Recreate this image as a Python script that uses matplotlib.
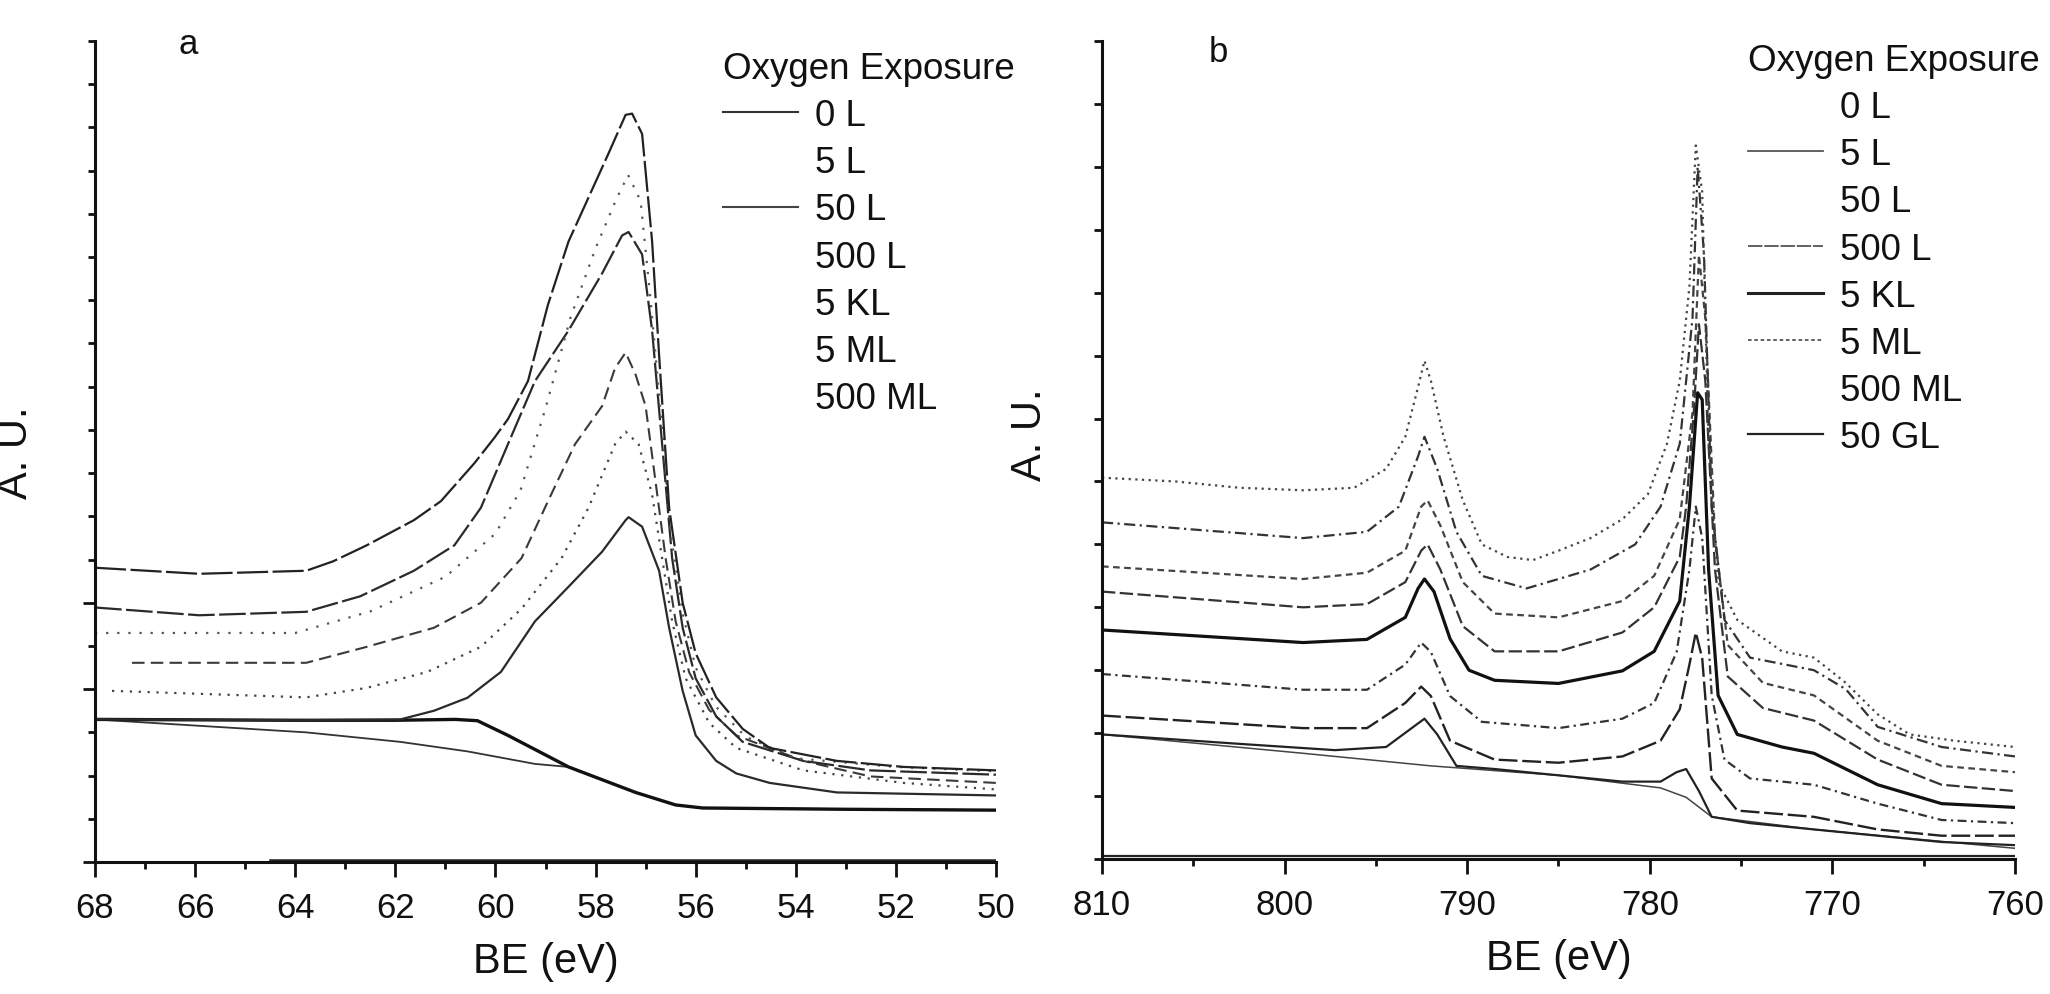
import matplotlib
matplotlib.use("Agg")
import matplotlib.pyplot as plt
from matplotlib.lines import Line2D

plt.rcParams['font.family'] = ['Liberation Sans', 'DejaVu Sans']

# ---------------- Panel a data (BE in eV, intensity in A.U.) ----------------
a_bg_ev = [68.0, 63.78, 61.90, 60.56, 59.21, 58.54, 57.20, 56.40, 55.86, 50.0]
a_bg_y = [3.30, 3.00, 2.78, 2.56, 2.27, 2.20, 1.61, 1.32, 1.25, 1.20]

a_floor_ev = [64.5, 50.0]
a_floor_y = [0.05, 0.05]

a_0L_ev = [68.0, 64.0, 62.0, 60.8, 60.36, 59.75, 58.54, 57.20, 56.40, 55.86, 53.0, 50.0]
a_0L_y = [3.30, 3.28, 3.28, 3.30, 3.27, 2.93, 2.20, 1.61, 1.32, 1.25, 1.22, 1.20]

a_5L_ev = [68.0, 64.0, 61.90, 61.23, 60.56, 59.89, 59.21, 58.54, 57.87, 57.40, 57.34,
           57.07, 56.73, 56.53, 56.26, 56.0, 55.59, 55.19, 54.52, 53.18, 50.0]
a_5L_y = [3.30, 3.28, 3.30, 3.50, 3.80, 4.40, 5.57, 6.37, 7.18, 7.91, 7.98,
          7.76, 6.74, 5.42, 3.96, 2.93, 2.34, 2.05, 1.83, 1.61, 1.54]

a_50L_ev = [67.66, 63.78, 62.57, 61.36, 60.29, 59.48, 58.68, 58.14, 57.61, 57.40, 57.14,
            56.87, 56.67, 56.47, 56.20, 55.73, 55.19, 53.85, 51.84, 50.0]
a_50L_y = [3.96, 3.81, 4.03, 4.40, 4.98, 5.86, 7.03, 8.20, 9.67, 9.96, 9.67,
           8.50, 7.03, 5.57, 4.25, 3.22, 2.64, 2.12, 1.83, 1.68]

a_500L_ev = [67.26, 63.78, 62.57, 61.23, 60.29, 59.48, 58.95, 58.41, 57.87, 57.61, 57.40,
             57.20, 57.00, 56.80, 56.60, 56.40, 56.13, 55.73, 55.19, 53.85, 52.51, 50.0]
a_500L_y = [4.61, 4.61, 4.98, 5.42, 6.00, 7.03, 8.35, 9.67, 10.55, 11.43, 11.79,
            11.28, 10.55, 8.79, 7.03, 5.57, 4.39, 3.52, 2.93, 2.34, 1.98, 1.83]

a_5KL_ev = [68.0, 65.92, 63.78, 62.70, 61.63, 60.82, 60.29, 59.75, 59.21, 58.54, 57.87, 57.47,
            57.34, 57.07, 56.87, 56.67, 56.47, 56.26, 56.0, 55.59, 55.06, 53.85, 52.51, 50.0]
a_5KL_y = [5.89, 5.71, 5.79, 6.15, 6.74, 7.33, 8.20, 9.67, 11.13, 12.30, 13.62, 14.50,
           14.58, 14.06, 12.30, 9.67, 7.03, 5.42, 4.25, 3.37, 2.78, 2.34, 2.12, 2.02]

a_5ML_ev = [68.0, 64.0, 62.5, 61.0, 60.0, 59.5, 59.0, 58.5, 58.0, 57.6, 57.35,
            57.1, 56.9, 56.7, 56.5, 56.25, 56.0, 55.6, 55.0, 54.0, 52.0, 50.0]
a_5ML_y = [5.3, 5.3, 5.8, 6.6, 7.6, 8.6, 10.5, 12.6, 14.2, 15.3, 15.9,
           15.3, 13.0, 10.4, 7.6, 5.7, 4.5, 3.6, 2.9, 2.4, 2.2, 2.1]

a_500ML_ev = [68.0, 65.92, 63.78, 63.24, 62.57, 61.63, 61.09, 60.42, 60.02, 59.75, 59.35,
              58.95, 58.54, 58.14, 57.74, 57.40, 57.27, 57.07, 56.87, 56.73, 56.53, 56.26,
              56.0, 55.59, 55.06, 54.52, 53.18, 51.84, 50.0]
a_500ML_y = [6.81, 6.67, 6.74, 6.96, 7.33, 7.91, 8.35, 9.23, 9.82, 10.25, 11.13,
             12.90, 14.36, 15.38, 16.40, 17.29, 17.32, 16.85, 14.36, 11.72, 8.20, 6.00,
             4.83, 3.81, 3.08, 2.64, 2.34, 2.20, 2.12]

a_labels = ["0 L", "5 L", "50 L", "500 L", "5 KL", "5 ML", "500 ML"]

# ---------------- Panel b data ----------------
b_bg_ev = [810.0, 798.99, 791.99, 785.0, 779.41, 778.01, 776.61, 771.01, 760.0]
b_bg_y = [1.98, 1.68, 1.48, 1.33, 1.13, 0.98, 0.67, 0.47, 0.17]

b_floor_ev = [810.0, 760.0]
b_floor_y = [0.04, 0.04]

b_0L_ev = [810.0, 802.48, 797.24, 794.44, 793.04, 792.34, 791.64, 790.59, 788.5, 785.0, 781.5,
           779.41, 778.53, 778.01, 777.31, 776.61, 774.51, 771.01, 767.52, 764.02, 760.0]
b_0L_y = [1.98, 1.83, 1.73, 1.78, 2.08, 2.23, 1.98, 1.48, 1.43, 1.33, 1.23,
          1.23, 1.38, 1.43, 1.08, 0.67, 0.57, 0.47, 0.37, 0.27, 0.22]

b_5L_ev = [810.0, 798.99, 795.49, 793.39, 792.52, 791.99, 790.94, 788.5, 785.0, 781.5, 779.41,
           778.36, 777.83, 777.48, 777.13, 776.61, 775.21, 771.01, 767.52, 764.02, 760.0]
b_5L_y = [2.28, 2.08, 2.08, 2.48, 2.74, 2.59, 1.88, 1.58, 1.53, 1.63, 1.88,
          2.38, 3.09, 3.60, 3.19, 1.28, 0.77, 0.67, 0.47, 0.37, 0.37]

b_50L_ev = [810.0, 798.99, 795.49, 793.39, 792.52, 791.99, 790.94, 789.2, 785.0, 781.5, 779.76,
            778.53, 777.83, 777.48, 777.13, 776.61, 775.91, 774.51, 771.01, 767.52, 764.02, 760.0]
b_50L_y = [2.94, 2.69, 2.69, 3.09, 3.44, 3.29, 2.59, 2.18, 2.08, 2.23, 2.48,
           3.29, 4.60, 5.60, 5.10, 2.60, 1.58, 1.28, 1.18, 0.88, 0.62, 0.57]

b_500L_ev = [810.0, 798.99, 795.49, 793.39, 792.69, 792.34, 791.82, 790.94, 789.9, 788.5, 785.0,
             781.5, 779.76, 778.36, 777.83, 777.38, 777.13, 776.78, 776.26, 775.21, 772.76,
             771.01, 767.52, 764.02, 760.0]
b_500L_y = [3.64, 3.44, 3.49, 3.84, 4.30, 4.45, 4.25, 3.50, 3.00, 2.84, 2.79,
            2.99, 3.30, 4.10, 5.60, 7.41, 7.30, 4.60, 2.60, 1.98, 1.78,
            1.68, 1.18, 0.88, 0.82]

b_5KL_ev = [810.0, 798.99, 795.49, 793.39, 792.52, 792.17, 791.47, 790.24, 788.5, 785.0, 781.5,
            779.76, 778.36, 778.01, 777.59, 777.31, 776.96, 776.43, 775.73, 773.81, 771.01,
            767.52, 764.02, 760.0]
b_5KL_y = [4.25, 4.00, 4.05, 4.40, 4.90, 5.00, 4.60, 3.70, 3.30, 3.30, 3.60,
           4.00, 4.80, 5.60, 7.10, 8.50, 7.60, 4.60, 2.90, 2.40, 2.20,
           1.58, 1.18, 1.08]

b_5ML_ev = [810.0, 798.99, 795.49, 793.39, 792.52, 792.17, 791.47, 790.24, 788.5, 785.0, 781.5,
            779.76, 778.36, 777.66, 777.31, 776.96, 776.43, 775.73, 773.81, 771.01, 767.52,
            764.02, 760.0]
b_5ML_y = [4.65, 4.45, 4.55, 4.90, 5.60, 5.70, 5.30, 4.40, 3.90, 3.84, 4.10,
           4.50, 5.40, 7.10, 9.60, 8.60, 5.10, 3.40, 2.80, 2.60, 1.88,
           1.48, 1.38]

b_500ML_ev = [810.0, 798.99, 795.49, 793.74, 792.69, 792.34, 791.64, 790.59, 789.2, 786.75, 783.25,
              780.8, 779.41, 778.36, 777.66, 777.38, 777.03, 776.61, 775.91, 774.51, 771.01,
              769.27, 767.52, 764.02, 760.0]
b_500ML_y = [5.35, 5.10, 5.20, 5.60, 6.40, 6.71, 6.20, 5.20, 4.50, 4.30, 4.60,
             5.00, 5.60, 6.60, 8.60, 11.00, 9.60, 5.60, 3.80, 3.20, 3.00,
             2.70, 2.10, 1.78, 1.63]

b_50GL_ev = [810.0, 805.98, 802.48, 798.99, 796.19, 794.44, 793.39, 792.69, 792.34, 791.99, 791.29,
             790.24, 789.2, 787.8, 786.4, 785.0, 783.25, 781.5, 780.1, 779.06, 778.36, 777.83,
             777.48, 777.13, 776.78, 776.26, 775.21, 772.76, 771.01, 769.27, 767.52, 765.77,
             763.32, 760.0]
b_50GL_y = [6.06, 6.00, 5.90, 5.86, 5.90, 6.20, 6.71, 7.50, 7.92, 7.60, 6.71,
            5.70, 5.00, 4.80, 4.75, 4.90, 5.10, 5.40, 5.80, 6.60, 7.60, 9.10,
            11.34, 10.60, 6.60, 4.40, 3.80, 3.30, 3.20, 2.80, 2.30, 1.98,
            1.88, 1.78]

b_labels = ["0 L", "5 L", "50 L", "500 L", "5 KL", "5 ML", "500 ML", "50 GL"]

a_xticks = [68, 66, 64, 62, 60, 58, 56, 54, 52, 50]
b_xticks = [810, 800, 790, 780, 770, 760]

# ---------------- figure ----------------
fig = plt.figure(figsize=(20.5, 9.95), dpi=100)
fig.patch.set_facecolor('white')
axa = fig.add_axes([95 / 2050, 1 - 863 / 995, (996 - 95) / 2050, (863 - 42) / 995])
axb = fig.add_axes([1102 / 2050, 1 - 860 / 995, (2015 - 1102) / 2050, (860 - 42) / 995])

FS_TICK = 25
FS_LAB = 30
FS_LEG = 26.5

# panel a lines
a_series = [
    (a_floor_ev, a_floor_y, dict(color='#222222', lw=1.8, ls='-')),
    (a_bg_ev, a_bg_y, dict(color='#333333', lw=1.3, ls='-')),
    (a_0L_ev, a_0L_y, dict(color='#111111', lw=2.4, ls='-')),
    (a_5L_ev, a_5L_y, dict(color='#2a2a2a', lw=1.6, ls='-')),
    (a_50L_ev, a_50L_y, dict(color='#444444', lw=1.6, ls=(0, (1, 3)))),
    (a_500L_ev, a_500L_y, dict(color='#3a3a3a', lw=1.5, ls=(0, (6, 3)))),
    (a_5KL_ev, a_5KL_y, dict(color='#2a2a2a', lw=1.6, ls=(0, (12, 2)))),
    (a_5ML_ev, a_5ML_y, dict(color='#555555', lw=1.6, ls=(0, (1, 4)))),
    (a_500ML_ev, a_500ML_y, dict(color='#222222', lw=1.6, ls=(0, (14, 2)))),
]
for ev, y, st in a_series:
    axa.plot(ev, y, **st)

# panel b lines
b_series = [
    (b_floor_ev, b_floor_y, dict(color='#222222', lw=1.6, ls='-')),
    (b_bg_ev, b_bg_y, dict(color='#444444', lw=1.1, ls='-')),
    (b_0L_ev, b_0L_y, dict(color='#222222', lw=1.6, ls='-')),
    (b_5L_ev, b_5L_y, dict(color='#222222', lw=1.7, ls=(0, (8, 2)))),
    (b_50L_ev, b_50L_y, dict(color='#333333', lw=1.6, ls=(0, (4, 2, 1, 2)))),
    (b_500L_ev, b_500L_y, dict(color='#111111', lw=2.3, ls='-')),
    (b_5KL_ev, b_5KL_y, dict(color='#333333', lw=1.6, ls=(0, (6, 2)))),
    (b_5ML_ev, b_5ML_y, dict(color='#444444', lw=1.6, ls=(0, (3, 2)))),
    (b_500ML_ev, b_500ML_y, dict(color='#333333', lw=1.6, ls=(0, (5, 2, 1, 2)))),
    (b_50GL_ev, b_50GL_y, dict(color='#444444', lw=1.6, ls=(0, (1, 2)))),
]
for ev, y, st in b_series:
    axb.plot(ev, y, **st)

# axes styling
for ax in (axa, axb):
    for s in ('top', 'right'):
        ax.spines[s].set_visible(False)
    for s in ('left', 'bottom'):
        ax.spines[s].set_linewidth(2.2)
        ax.spines[s].set_color('#111111')
    ax.tick_params(axis='x', which='major', direction='out', length=11, width=2,
                   labelsize=FS_TICK, pad=10, colors='#111111')
    ax.tick_params(axis='x', which='minor', direction='out', length=5, width=2, colors='#111111')
    ax.tick_params(axis='y', which='both', direction='out', width=2, colors='#111111',
                   labelleft=False)
    ax.tick_params(axis='y', which='major', length=9)
    ax.tick_params(axis='y', which='minor', length=5)

axa.set_xlim(68, 50)
axa.set_ylim(0, 19)
axa.set_xticks(a_xticks)
axa.set_xticks([67, 65, 63, 61, 59, 57, 55, 53, 51], minor=True)
axa.set_yticks([0, 4, 6])
axa.set_yticks([1, 2, 3, 5, 7, 8, 9, 10, 11, 12, 13, 14, 15, 16, 17, 18, 19], minor=True)

axb.set_xlim(810, 760)
axb.set_ylim(0, 13)
axb.set_xticks(b_xticks)
axb.set_xticks([805, 795, 785, 775, 765], minor=True)
axb.set_yticks(list(range(0, 14)))
axb.tick_params(axis='y', which='major', length=6)

for ax, xl, yc in ((axa, -0.0655, 0.5), (axb, -0.057, 0.52)):
    ax.set_xlabel("BE (eV)", fontsize=FS_LAB, color='#111111')
    ax.set_ylabel("A. U.", fontsize=FS_LAB, color='#111111')
    ax.yaxis.set_label_coords(xl, yc)
    ax.xaxis.set_label_coords(0.5, -0.096)

fig.text(188 / 2050, 1 - 45 / 995, "a", fontsize=25, ha='center', va='center', color='#111111')
fig.text(1218 / 2050, 1 - 52 / 995, "b", fontsize=25, ha='center', va='center', color='#111111')

# legends
a_vis = {"0 L": dict(color='#333333', lw=1.5, ls='-'), "50 L": dict(color='#444444', lw=1.5, ls='-')}
a_handles = []
for lab in a_labels:
    if lab in a_vis:
        a_handles.append(Line2D([], [], **a_vis[lab]))
    else:
        a_handles.append(Line2D([], [], ls='none'))
b_vis = {"5 L": dict(color='#555555', lw=1.3, ls='-'),
         "500 L": dict(color='#555555', lw=1.3, ls=(0, (8, 1))),
         "5 KL": dict(color='#222222', lw=2.2, ls='-'),
         "5 ML": dict(color='#555555', lw=1.3, ls=(0, (2, 1.5))),
         "50 GL": dict(color='#222222', lw=1.6, ls='-')}
b_handles = []
for lab in b_labels:
    if lab in b_vis:
        b_handles.append(Line2D([], [], **b_vis[lab]))
    else:
        b_handles.append(Line2D([], [], ls='none'))

leg_kw = dict(loc='upper left', frameon=False, fontsize=FS_LEG, title_fontsize=FS_LEG,
              alignment='left', handlelength=2.04, handletextpad=0.46, labelspacing=0.33,
              borderpad=0, borderaxespad=0)
lga = axa.legend(a_handles, a_labels, title="Oxygen Exposure",
                 bbox_to_anchor=(723 / 2050, 1 - 52 / 995), bbox_transform=fig.transFigure, **leg_kw)
lgb = axb.legend(b_handles, b_labels, title="Oxygen Exposure",
                 bbox_to_anchor=(1748 / 2050, 1 - 44 / 995), bbox_transform=fig.transFigure, **leg_kw)
for lg in (lga, lgb):
    lg.get_title().set_color('#111111')
    for t in lg.get_texts():
        t.set_color('#111111')

fig.savefig("out.png", dpi=100, facecolor='white')
